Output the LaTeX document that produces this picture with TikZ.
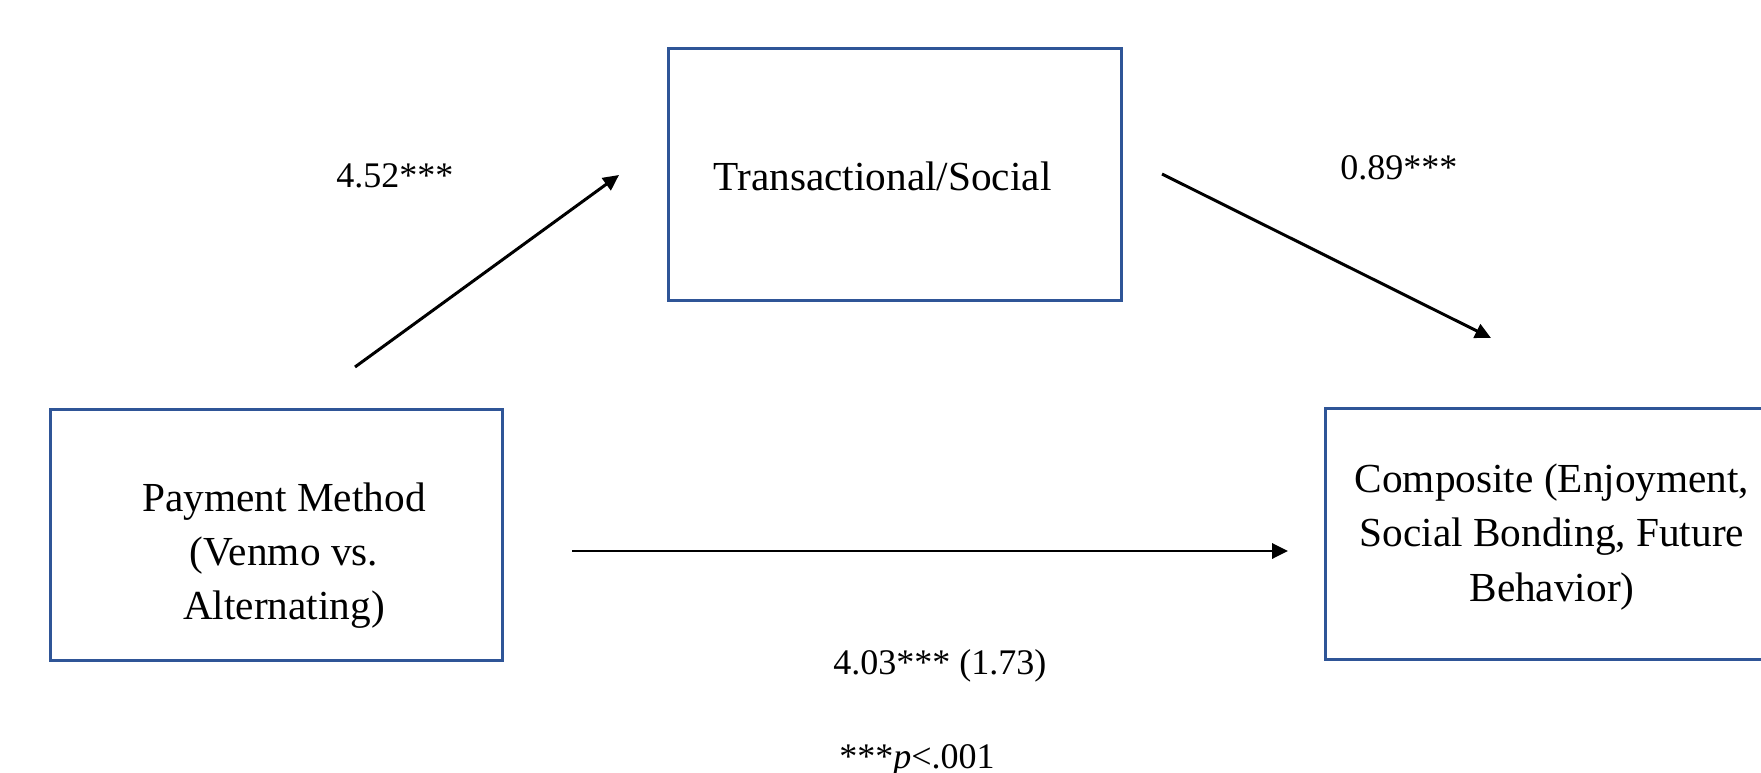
\documentclass[tikz,border=0pt]{standalone}
\usepackage{fontspec}
\setmainfont{Liberation Serif}
\usetikzlibrary{arrows.meta}
\definecolor{BoxBlue}{HTML}{2F5597}
\definecolor{Ink}{HTML}{000000}
\tikzset{
  varbox/.style={draw=BoxBlue,line width=1.7pt,minimum width=9.06cm,minimum height=5.04cm,inner sep=0pt},
  vartext/.style={align=center,inner sep=0pt,text=Ink,font=\fontsize{23.5pt}{30.8pt}\selectfont},
  coef/.style={inner sep=0pt,anchor=base west,text=Ink,font=\fontsize{20.5pt}{24pt}\selectfont},
  effect/.style={-{Triangle[length=9pt,width=8.5pt]},line width=1.7pt,draw=Ink}
}

\begin{document}
\begin{tikzpicture}[x=0.02cm,y=-0.02cm]
  \clip (0,0) rectangle (1761,773);
  \fill[white] (0,0) rectangle (1761,773);
  % variable boxes
  \node[varbox] (pay) at (276.5,535) {};
  \node[varbox] (trans) at (895,174.5) {};
  \node[varbox] (comp) at (1551.5,534) {};
  \node[vartext] (payTxt) at (284,556) {Payment Method\\(Venmo vs.\\Alternating)};
  \node[vartext] (transTxt) at (882.5,176) {Transactional/Social};
  \node[vartext] (compTxt) at (1552,537) {Composite (Enjoyment,\\Social Bonding, Future\\Behavior)};
  % arrow ends
  \coordinate (payOut) at (355,367);
  \coordinate (transIn) at (619,175);
  \coordinate (transOut) at (1162,174);
  \coordinate (compIn) at (1491,338);
  \coordinate (payRight) at (572,551);
  \coordinate (compLeft) at (1288,551);
  \draw[effect] (payOut) -- (transIn);
  \draw[effect] (transOut) -- (compIn);
  \draw[effect] (payRight) -- (compLeft);
  % coefficients
  \node[coef] (aPath) at (336,188) {4.52***};
  \node[coef] (bPath) at (1340,180) {0.89***};
  \node[coef] (cPath) at (833,674) {4.03*** (1.73)};
  \node[coef] (sigNote) at (839,768) {***\textit{p}<.001};
\end{tikzpicture}
\end{document}
